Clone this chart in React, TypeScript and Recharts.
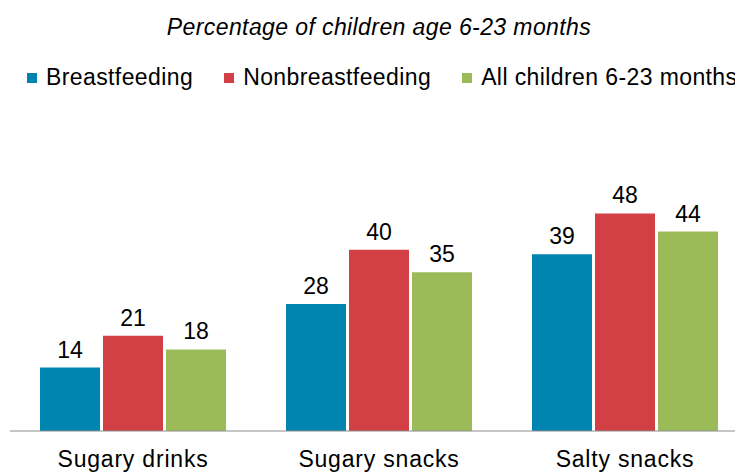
import { Bar, BarChart, LabelList, Legend, XAxis, YAxis } from "recharts";

const categories = ["Sugary drinks", "Sugary snacks", "Salty snacks"];
const breastfeeding = [14, 28, 39];
const nonbreastfeeding = [21, 40, 48];
const allChildren = [18, 35, 44];

const seriesNames = ["Breastfeeding", "Nonbreastfeeding", "All children 6-23 months"];
const seriesColors = ["#0085B0", "#D24045", "#9BBB59"];

const data = categories.map((name, i) => ({
  name,
  breastfeeding: breastfeeding[i],
  nonbreastfeeding: nonbreastfeeding[i],
  allChildren: allChildren[i],
}));

const font = '"Liberation Sans", Arial, sans-serif';

function LegendRow({ payload }: any) {
  const items = [...(payload || [])].sort(
    (a: any, b: any) => seriesNames.indexOf(a.value) - seriesNames.indexOf(b.value)
  );
  return (
    <div style={{ display: "flex", whiteSpace: "nowrap", fontSize: 23, letterSpacing: 0.4, color: "#000" }}>
      {items.map((item: any) => (
        <div key={item.value} style={{ display: "flex", alignItems: "center", marginRight: 31 }}>
          <span style={{ width: 10, height: 10, background: item.color, marginRight: 9, display: "inline-block" }} />
          <span>{item.value}</span>
        </div>
      ))}
    </div>
  );
}

export default function App() {
  return (
    <div
      style={{
        position: "fixed",
        left: 0,
        top: 0,
        width: 735,
        height: 472,
        overflow: "hidden",
        background: "#fff",
        fontFamily: font,
      }}
    >
      <div
        style={{
          position: "absolute",
          top: 14,
          left: 0,
          width: 758,
          textAlign: "center",
          fontStyle: "italic",
          fontSize: 23,
          letterSpacing: 0.4,
          color: "#000",
        }}
      >
        Percentage of children age 6-23 months
      </div>
      <BarChart
        width={760}
        height={472}
        data={data}
        margin={{ top: 159, right: 12, bottom: 0, left: 10 }}
        barSize={60}
        barGap={3}
        barCategoryGap={30}
      >
        <XAxis
          dataKey="name"
          height={41}
          axisLine={{ stroke: "#8c8c8c" }}
          tickLine={false}
          tickSize={0}
          tickMargin={20}
          tick={{ fill: "#000", fontSize: 23, fontFamily: font, letterSpacing: 0.8 }}
        />
        <YAxis hide domain={[0, 60]} />
        <Legend
          layout="horizontal"
          verticalAlign="middle"
          align="center"
          wrapperStyle={{ top: 64, left: 27, width: 760 }}
          content={<LegendRow />}
        />
        <Bar dataKey="breastfeeding" name={seriesNames[0]} fill={seriesColors[0]} isAnimationActive={false}>
          <LabelList dataKey="breastfeeding" position="top" offset={10} fill="#000" fontSize={23} fontFamily={font} />
        </Bar>
        <Bar dataKey="nonbreastfeeding" name={seriesNames[1]} fill={seriesColors[1]} isAnimationActive={false}>
          <LabelList dataKey="nonbreastfeeding" position="top" offset={10} fill="#000" fontSize={23} fontFamily={font} />
        </Bar>
        <Bar dataKey="allChildren" name={seriesNames[2]} fill={seriesColors[2]} isAnimationActive={false}>
          <LabelList dataKey="allChildren" position="top" offset={10} fill="#000" fontSize={23} fontFamily={font} />
        </Bar>
      </BarChart>
    </div>
  );
}
